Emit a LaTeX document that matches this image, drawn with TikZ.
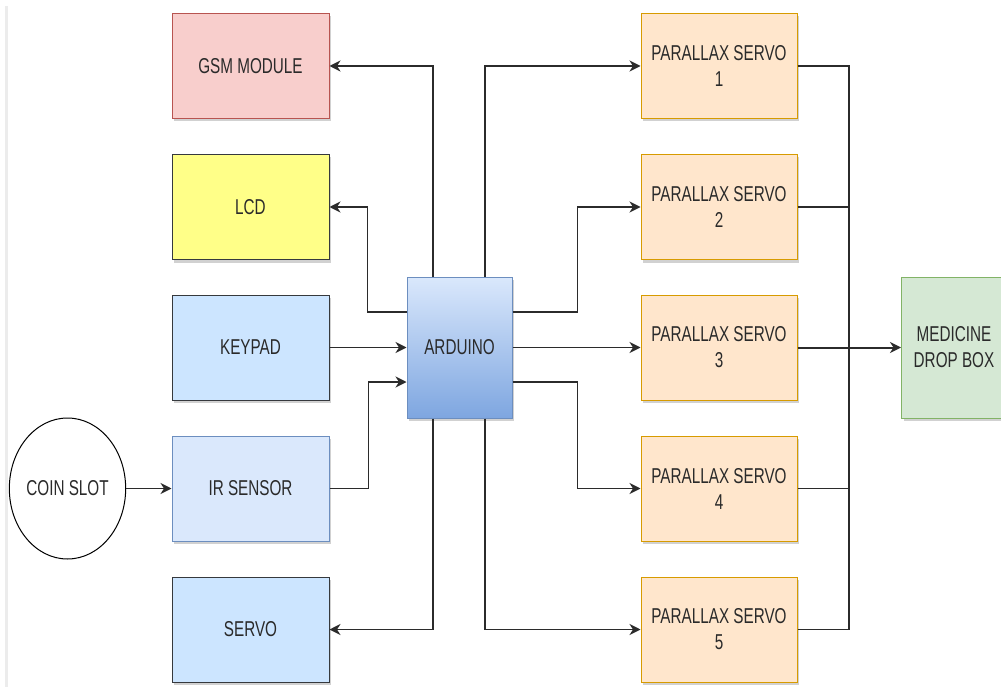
\documentclass[tikz,border=0pt]{standalone}
\usepackage{fontspec}
\setmainfont{Liberation Sans}[FakeStretch=0.71]
\usetikzlibrary{arrows.meta,shadows,shapes.geometric,calc}
\definecolor{txt}{HTML}{2A2A2A}
\definecolor{ln}{HTML}{2B2B2B}
\tikzset{
  base/.style={draw, line width=1pt, minimum width=157pt, minimum height=105pt, align=center, text=txt,
    font=\fontsize{21.5}{26}\selectfont,
    drop shadow={shadow xshift=2pt, shadow yshift=-3pt, opacity=0.18, fill=black}},
  gsmbox/.style={base, fill={rgb,255:red,248;green,206;blue,204}, draw={rgb,255:red,184;green,84;blue,80}},
  lcdbox/.style={base, fill={rgb,255:red,255;green,255;blue,136}, draw={rgb,255:red,54;green,57;blue,61}},
  bluebox/.style={base, fill={rgb,255:red,204;green,229;blue,255}, draw={rgb,255:red,54;green,57;blue,61}},
  irbox/.style={base, fill={rgb,255:red,218;green,232;blue,252}, draw={rgb,255:red,108;green,142;blue,191}},
  psbox/.style={base, minimum width=156pt, fill={rgb,255:red,255;green,230;blue,204}, draw={rgb,255:red,215;green,155;blue,0}},
  medbox/.style={base, minimum width=105pt, minimum height=141pt, fill={rgb,255:red,213;green,232;blue,212}, draw={rgb,255:red,130;green,179;blue,102}},
  ardbox/.style={base, minimum width=105pt, minimum height=141pt, top color={rgb,255:red,218;green,232;blue,252}, bottom color={rgb,255:red,126;green,166;blue,224}, draw={rgb,255:red,108;green,142;blue,191}},
  coinbox/.style={ellipse, draw=black, line width=1pt, fill=white, minimum width=103pt, minimum height=141pt, text=txt, font=\fontsize{21.5}{26}\selectfont, inner sep=0pt},
  wire/.style={draw=ln, line width=1.5pt},
  arr/.style={wire, -{Stealth[length=11pt,width=11pt,inset=3.5pt]}},
}
\begin{document}
\begin{tikzpicture}[x=1pt,y=-1pt]
\useasboundingbox (0,0) rectangle (1001,687);
\fill[white] (0,0) rectangle (1001,687);
\fill[gray!15] (5,6) rectangle (8,687);

% left column
\node[gsmbox] (gsm) at (250.5,66) {GSM MODULE};
\node[lcdbox] (lcd) at (250.5,207) {LCD};
\node[bluebox] (kp) at (250.5,347.5) {KEYPAD};
\node[irbox] (ir) at (250.5,488.5) {IR SENSOR};
\node[bluebox] (srv) at (250.5,629.5) {SERVO};
\node[coinbox] (coin) at (67.5,488.5) {COIN SLOT};

% center
\node[ardbox] (ard) at (459.5,347.5) {ARDUINO};

% right column
\node[psbox] (ps1) at (719,66) {PARALLAX SERVO\\1};
\node[psbox] (ps2) at (719,207) {PARALLAX SERVO\\2};
\node[psbox] (ps3) at (719,347.5) {PARALLAX SERVO\\3};
\node[psbox] (ps4) at (719,488.5) {PARALLAX SERVO\\4};
\node[psbox] (ps5) at (719,629.5) {PARALLAX SERVO\\5};
\node[medbox] (med) at (954,347.5) {MEDICINE\\DROP BOX};

\coordinate (bus) at (849,347.5);

% left connectors
\draw[arr] ([xshift=-26.5pt]ard.north) |- (gsm.east);
\draw[arr] ([yshift=35.5pt]ard.west) -- ++(-39,0) |- (lcd.east);
\draw[arr] (kp.east) -- (ard.west);
\draw[arr] (ir.east) -- ++(39,0) |- ([yshift=-34.5pt]ard.west);
\draw[arr] ([xshift=-26.5pt]ard.south) |- (srv.east);
\draw[arr] (coin.east) -- (ir.west);

% right connectors
\draw[arr] ([xshift=25.5pt]ard.north) |- (ps1.west);
\draw[arr] ([yshift=35.5pt]ard.east) -- ++(65,0) |- (ps2.west);
\draw[arr] (ard.east) -- (ps3.west);
\draw[arr] ([yshift=-34.5pt]ard.east) -- ++(65,0) |- (ps4.west);
\draw[arr] ([xshift=25.5pt]ard.south) |- (ps5.west);

% outputs
\draw[wire] (ps1.east) -| (bus);
\draw[wire] (ps2.east) -| (bus);
\draw[wire] (ps4.east) -| (bus);
\draw[wire] (ps5.east) -| (bus);
\draw[arr, line width=2pt] (ps3.east) -- (med.west);
\end{tikzpicture}
\end{document}
